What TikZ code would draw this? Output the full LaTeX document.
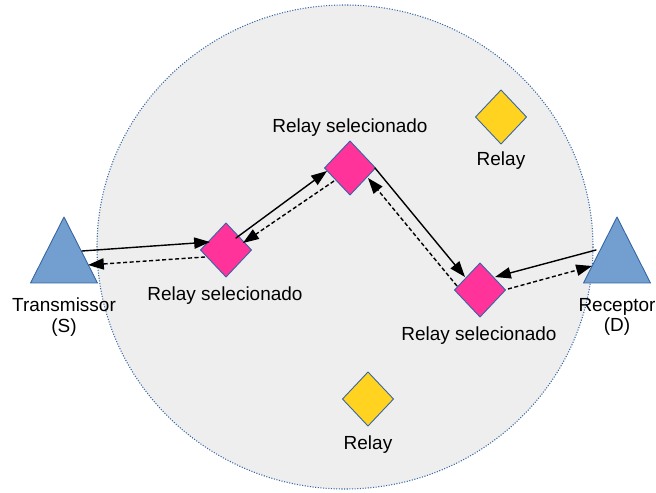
\documentclass[tikz,border=0pt]{standalone}
\usepackage{xcolor}
\usepackage{fontspec}
\setmainfont{Liberation Sans}
\usepackage{tikz}
\usetikzlibrary{arrows.meta}
\usetikzlibrary{shapes.geometric}
\definecolor{eeeeee}{rgb}{0.933,0.933,0.933}
\definecolor{ttwwaa}{rgb}{0.204,0.396,0.643}
\definecolor{aaccee}{rgb}{0.447,0.624,0.812}
\definecolor{ffttzz}{rgb}{1.,0.2,0.6}
\definecolor{ffdcqq}{rgb}{1.,0.827,0.125}
\tikzstyle{every node}=[font=\fontsize{10.8}{11.6}\selectfont]

\begin{document}
\begin{tikzpicture}[line cap=round,line join=round,>={Triangle[length=9pt,width=6.4pt]},x=0.02cm,y=-0.02cm,
    antenna/.style={isosceles triangle,shape border rotate=90,isosceles triangle stretches,minimum width=1.34cm,minimum height=1.32cm,inner sep=0pt,outer sep=0pt,draw=ttwwaa,line width=0.5pt,fill=aaccee,anchor=apex},
    relaysel/.style={diamond,minimum width=1.02cm,minimum height=1.08cm,inner sep=0pt,outer sep=0pt,draw=ttwwaa,line width=0.5pt,fill=ffttzz},
    relayfree/.style={relaysel,fill=ffdcqq},
    link/.style={->,line width=0.8pt,color=black},
    back/.style={link,line cap=butt,dash pattern=on 2.3pt off 1.4pt},
    lbl/.style={anchor=base,text=black,inner sep=0pt}]
\useasboundingbox (0,0) rectangle (656,493);
% area of the relays
\fill[color=eeeeee] (345,247) ellipse [x radius=248, y radius=242];
\draw[line width=0.6pt,line cap=butt,color=ttwwaa,dash pattern=on 0.6pt off 0.9pt] (345,247) ellipse [x radius=248, y radius=242];
% source and destination
\node[antenna] (s) at (64,217) {};
\node[antenna] (d) at (617,217) {};
% relays
\node[relaysel] (r1) at (226,250) {};
\node[relaysel] (r2) at (350,168) {};
\node[relaysel] (r3) at (480,290) {};
\node[relayfree] (f1) at (501,117) {};
\node[relayfree] (f2) at (368,399) {};
% links
\draw[link] ([shift={(18,34)}]s.apex) -- ([shift={(-16,-8)}]r1.center);
\draw[back] ([shift={(-21,7)}]r1.center) -- ([shift={(24,48)}]s.apex);
\draw[link] ([shift={(10,-12)}]r1.center) -- ([shift={(-23,3)}]r2.center);
\draw[back] ([shift={(-16,13)}]r2.center) -- ([shift={(17,-7)}]r1.center);
\draw[link] ([shift={(25,0)}]r2.center) -- ([shift={(-15,-13)}]r3.center);
\draw[back] ([shift={(-23,-4)}]r3.center) -- ([shift={(18,10)}]r2.center);
\draw[link] ([shift={(-21,33)}]d.apex) -- ([shift={(15,-13)}]r3.center);
\draw[back] ([shift={(28,-1)}]r3.center) -- ([shift={(-25,49)}]d.apex);
% labels
\node[lbl,align=center,anchor=center] (ls) at (64,317) {Transmissor\\(S)};
\node[lbl,align=center,anchor=center] (ld) at (617,317) {Receptor\\(D)};
\node[lbl] (l1) at (225,300) {Relay selecionado};
\node[lbl] (l2) at (350,133) {Relay selecionado};
\node[lbl] (l3) at (479,340) {Relay selecionado};
\node[lbl] (lf1) at (501,166) {Relay};
\node[lbl] (lf2) at (368,449) {Relay};
\end{tikzpicture}
\end{document}
